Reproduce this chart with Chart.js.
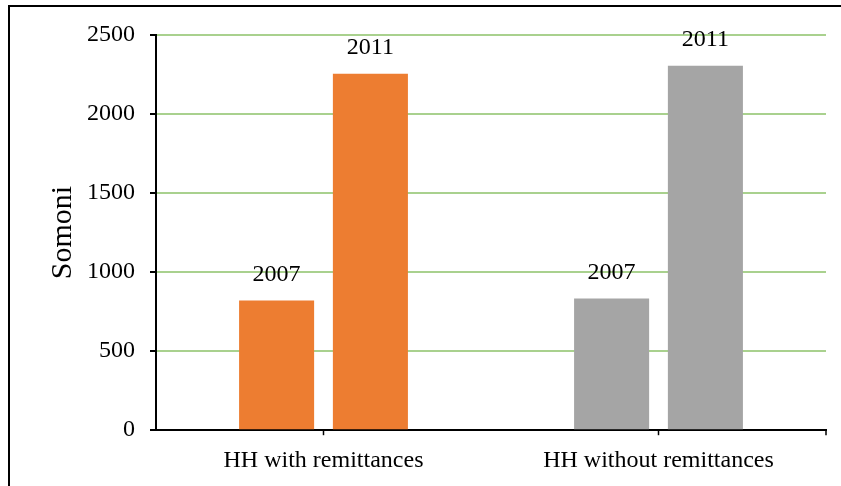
<!DOCTYPE html>
<html>
<head>
<meta charset="utf-8">
<script src="https://cdn.jsdelivr.net/npm/chart.js@4"></script>
<style>
  html, body { margin: 0; padding: 0; background: #fff; overflow: hidden; }
  #wrap { position: relative; width: 841px; height: 486px; }
  #frame {
    position: absolute; left: 8px; top: 5px; width: 900px; height: 600px;
    border: 2.5px solid #000; pointer-events: none;
  }
</style>
</head>
<body>
<div id="wrap">
  <canvas id="myChart" width="841" height="486"></canvas>
  <div id="frame"></div>
</div>
<script>
const categories = ["HH with remittances", "HH without remittances"];
const years = ["2007", "2011"];
const values2007 = [820, 833];
const values2011 = [2255, 2305];
const yTicks = [0, 500, 1000, 1500, 2000, 2500];

const groupColors = ["#ED7D31", "#A5A5A5"];
const serif = "'Liberation Serif', 'Times New Roman', serif";

// writes the year above each bar
const yearLabels = {
  id: "yearLabels",
  afterDatasetsDraw(chart) {
    const ctx = chart.ctx;
    ctx.save();
    ctx.fillStyle = "#000";
    ctx.font = "24px " + serif;
    ctx.textAlign = "center";
    ctx.textBaseline = "middle";
    chart.data.datasets.forEach((ds, i) => {
      chart.getDatasetMeta(i).data.forEach((bar) => {
        ctx.fillText(ds.label, bar.x, bar.y - 26);
      });
    });
    // small end tick on the category axis
    const xs = chart.scales.x;
    ctx.strokeStyle = "#000";
    ctx.lineWidth = 1.5;
    ctx.beginPath();
    ctx.moveTo(xs.right, xs.top);
    ctx.lineTo(xs.right, xs.top + 5);
    ctx.stroke();
    ctx.restore();
  },
};

const myChart = new Chart(document.getElementById("myChart"), {
  type: "bar",
  data: {
    labels: categories,
    datasets: [
      { label: years[0], data: values2007, backgroundColor: groupColors },
      { label: years[1], data: values2011, backgroundColor: groupColors },
    ],
  },
  options: {
    responsive: false,
    animation: false,
    categoryPercentage: 0.56,
    barPercentage: 0.8,
    layout: { padding: { left: 42, right: 15, top: 35, bottom: 0 } },
    plugins: {
      legend: { display: false },
      tooltip: { enabled: false },
    },
    scales: {
      x: {
        grid: {
          offset: false,
          drawOnChartArea: false,
          tickColor: "#000",
          tickLength: 5,
          tickWidth: 1.5,
        },
        border: { color: "#000", width: 2 },
        ticks: { color: "#000", font: { family: serif, size: 24 }, padding: 11 },
      },
      y: {
        min: 0,
        max: 2500,
        afterBuildTicks: (scale) => {
          scale.ticks = yTicks.map((v) => ({ value: v }));
        },
        afterFit: (scale) => {
          scale.width = 114;
        },
        grid: {
          color: (c) => (c.tick && c.tick.value === 0 ? "rgba(0,0,0,0)" : "#A9D18E"),
          lineWidth: 2,
          tickColor: "#000",
          tickLength: 6,
          tickWidth: 2,
        },
        border: { color: "#000", width: 2 },
        ticks: {
          color: "#000",
          font: { family: serif, size: 24 },
          padding: 15,
          callback: (v) => String(v),
        },
        title: {
          display: true,
          text: "Somoni",
          color: "#000",
          font: { family: serif, size: 30 },
          padding: { top: 3, bottom: 4 },
        },
      },
    },
  },
  plugins: [yearLabels],
});
</script>
</body>
</html>
